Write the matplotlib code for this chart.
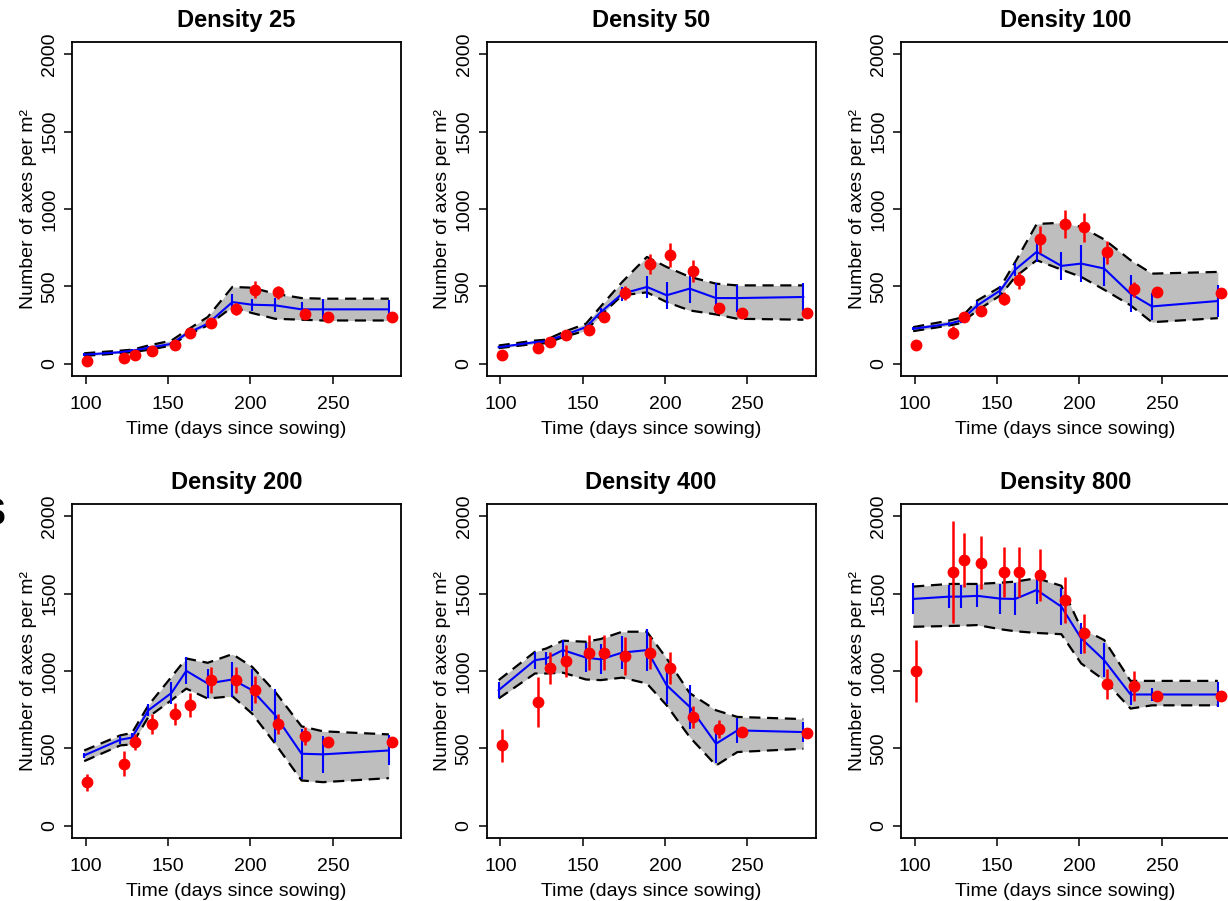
import matplotlib
matplotlib.use("Agg")
import matplotlib.pyplot as plt
import numpy as np

plt.rcParams["font.family"] = ["Liberation Sans", "DejaVu Sans"]

densities = [25, 50, 100, 200, 400, 800]

# model output days and observation days (observations slightly offset)
model_days = [99, 121, 128, 138, 152, 161, 174, 189, 201, 215, 231, 244, 284]
obs_days = [101, 123, 130, 140, 154, 163, 176, 191, 203, 217, 233, 247, 286]

# simulated mean and its error bar
model_mean = {
    25: [58, 74, 84, 102, 128, 193, 258, 398, 381, 377, 351, 351, 351],
    50: [106, 139, 145, 182, 236, 333, 452, 496, 442, 485, 424, 424, 431],
    100: [225, 258, 279, 377, 474, 608, 723, 632, 647, 615, 452, 370, 405],
    200: [454, 556, 569, 746, 858, 1001, 919, 945, 876, 714, 465, 461, 486],
    400: [876, 1070, 1081, 1135, 1087, 1075, 1119, 1135, 908, 768, 530, 616, 605],
    800: [1466, 1481, 1481, 1486, 1468, 1466, 1524, 1416, 1211, 1070, 848, 848, 848],
}
model_err = {
    25: [8, 8, 8, 10, 10, 12, 20, 50, 40, 45, 49, 65, 60],
    50: [8, 10, 10, 12, 15, 25, 45, 71, 87, 92, 97, 87, 92],
    100: [10, 12, 15, 25, 30, 40, 65, 92, 119, 114, 119, 87, 103],
    200: [15, 25, 30, 40, 70, 87, 92, 113, 135, 170, 162, 119, 97],
    400: [50, 54, 43, 65, 92, 97, 108, 135, 119, 140, 124, 81, 65],
    800: [100, 76, 76, 73, 97, 103, 92, 119, 100, 110, 65, 43, 81],
}

# envelope (dashed lines, gray band)
model_upper = {
    25: [67, 84, 90, 117, 149, 214, 301, 496, 491, 452, 424, 420, 420],
    50: [117, 149, 155, 203, 258, 370, 528, 690, 625, 561, 517, 506, 506],
    100: [236, 279, 297, 409, 496, 658, 903, 911, 885, 803, 669, 582, 593],
    200: [486, 584, 599, 778, 962, 1081, 1053, 1109, 1027, 865, 642, 610, 590],
    400: [941, 1124, 1146, 1196, 1189, 1207, 1254, 1254, 1081, 857, 746, 703, 689],
    800: [1546, 1563, 1563, 1563, 1571, 1578, 1600, 1551, 1276, 1200, 936, 936, 936],
}
model_lower = {
    25: [50, 67, 74, 89, 117, 182, 247, 366, 327, 290, 284, 279, 279],
    50: [100, 128, 132, 171, 214, 312, 442, 461, 398, 344, 318, 290, 284],
    100: [210, 247, 262, 344, 442, 561, 669, 608, 561, 478, 377, 268, 294],
    200: [417, 519, 525, 703, 811, 886, 822, 837, 724, 530, 292, 281, 307],
    400: [822, 984, 984, 989, 945, 941, 957, 919, 778, 573, 389, 476, 497],
    800: [1286, 1291, 1293, 1297, 1270, 1257, 1246, 1238, 1049, 941, 757, 778, 778],
}

# observations
obs_mean = {
    25: [19, 39, 58, 80, 123, 201, 260, 355, 478, 461, 320, 301, 301],
    50: [58, 100, 141, 182, 219, 301, 457, 647, 701, 600, 361, 329, 329],
    100: [123, 201, 301, 338, 420, 539, 803, 903, 881, 719, 481, 461, 459],
    200: [281, 400, 541, 659, 720, 781, 941, 941, 880, 659, 579, 541, 541],
    400: [519, 800, 1022, 1062, 1118, 1118, 1098, 1119, 1020, 703, 623, 605, 601],
    800: [1000, 1639, 1719, 1701, 1639, 1639, 1622, 1459, 1243, 919, 901, 839, 839],
}
obs_err = {
    25: [8, 10, 10, 10, 10, 15, 15, 40, 54, 43, 15, 10, 8],
    50: [10, 12, 12, 15, 15, 25, 43, 65, 76, 70, 32, 15, 10],
    100: [15, 43, 20, 32, 43, 54, 85, 92, 92, 76, 49, 20, 15],
    200: [54, 81, 49, 65, 70, 76, 86, 86, 86, 65, 59, 25, 20],
    400: [108, 162, 103, 103, 113, 113, 124, 108, 103, 70, 59, 32, 20],
    800: [200, 330, 173, 173, 162, 162, 168, 151, 124, 97, 97, 32, 20],
}

W, H = 1228, 901
fig = plt.figure(figsize=(W / 100, H / 100), dpi=100)

# panel boxes in pixels: left, top, width, height
lefts = [72, 486.5, 901]
tops = [42, 504]
pw, ph = 329, 334

for i, d in enumerate(densities):
    r, c = divmod(i, 3)
    x0, y0 = lefts[c], tops[r]
    ax = fig.add_axes([x0 / W, (H - y0 - ph) / H, pw / W, ph / H])

    ax.fill_between(model_days, model_lower[d], model_upper[d], color="#bebebe", lw=0)
    ax.plot(model_days, model_upper[d], color="black", lw=1.6, ls=(0, (5, 3)))
    ax.plot(model_days, model_lower[d], color="black", lw=1.6, ls=(0, (5, 3)))
    ax.errorbar(model_days, model_mean[d], yerr=model_err[d], color="#0000ff",
                lw=1.5, elinewidth=1.5, capsize=0)
    ax.errorbar(obs_days, obs_mean[d], yerr=obs_err[d], fmt="o", color="red",
                ms=7.5, elinewidth=1.8, capsize=0, zorder=5)

    ax.set_xlim(91.6, 291.4)
    ax.set_ylim(-80, 2080)
    ax.set_xticks([100, 150, 200, 250])
    ax.set_yticks([0, 500, 1000, 1500, 2000])
    ax.tick_params(direction="out", length=6, width=1.1, labelsize=14)
    ax.tick_params(axis="x", pad=8.5)
    ax.tick_params(axis="y", pad=4)
    for lab in ax.get_yticklabels():
        lab.set_rotation(90)
        lab.set_va("center")
    for sp in ax.spines.values():
        sp.set_linewidth(1.3)

    ax.set_title(f"Density {d}", fontsize=17, fontweight="bold", pad=11)
    ax.set_xlabel("Time (days since sowing)", fontsize=14, labelpad=6)
    ax.set_ylabel("Number of axes per m²", fontsize=14, labelpad=3)

# stray panel letter cut at the left margin
fig.text(6 / W, 1 - 515 / H, "S", ha="right", va="center", fontsize=27, fontweight="bold")

fig.savefig("out.png", dpi=100)
